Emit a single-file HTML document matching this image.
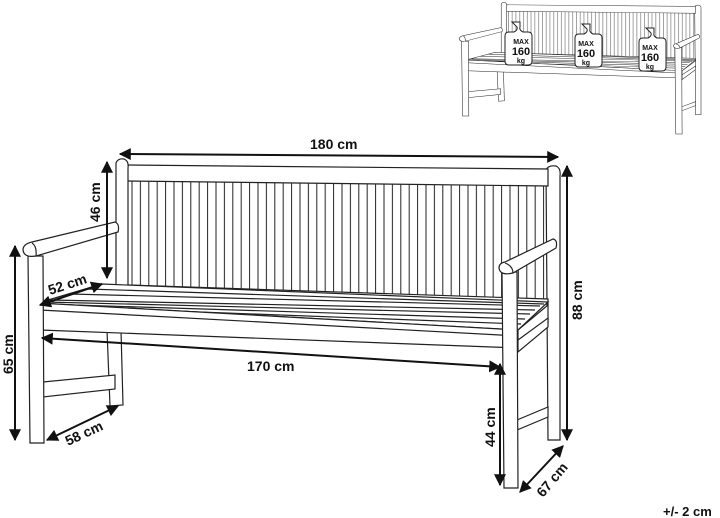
<!DOCTYPE html>
<html><head><meta charset="utf-8"><style>
html,body{margin:0;padding:0;background:#fff;}
svg{display:block;}
text{font-family:"Liberation Sans",sans-serif;font-weight:bold;fill:#111;}
</style></head><body>
<svg width="720" height="518" viewBox="0 0 720 518" xmlns="http://www.w3.org/2000/svg">
<defs>
<pattern id="sl" width="8.4" height="400" patternUnits="userSpaceOnUse" x="128" y="0">
<line x1="4" y1="0" x2="4" y2="400" stroke="#222" stroke-width="1"/>
</pattern>
<clipPath id="bk"><polygon points="128,181 548,186 548,303 128,287"/></clipPath>
<marker id="ar" viewBox="0 0 10 10" refX="9" refY="5" markerWidth="6" markerHeight="6" orient="auto-start-reverse"><path d="M0,0 L10,5 L0,10 z" fill="#111"/></marker>
<g id="bench" fill="#fff" stroke="#222" stroke-width="1.2" vector-effect="non-scaling-stroke">
<rect x="120" y="170" width="440" height="140" fill="url(#sl)" stroke="none" clip-path="url(#bk)"/>
<path d="M546,170 Q548,165 556,166 Q561,168 560,176 L560,440 L548,440 Z"/>
<path d="M126,165 L548,169 L548,186 L126,181 Z"/>
<path d="M116,163 Q118,158 124,159 Q129,161 128,168 L128,290 L116,290 Z"/>
<path d="M128,285 L548,299 L548,304 L128,290 Z"/>
<path d="M107,330 L121,330 L123,405 L110,406 Z"/>
<path d="M43,382 L115,375 L115,389 L43,397 Z"/>
<path d="M38,303 L102,284 L548,302 L518,330 Z"/>
<line x1="50" y1="300" x2="535" y2="310" />
<line x1="45" y1="302" x2="530" y2="314" />
<line x1="42" y1="304" x2="525" y2="319" />
<line x1="40" y1="306" x2="521" y2="324" />
<line x1="70" y1="294" x2="540" y2="306" />
<line x1="88" y1="289" x2="544" y2="304" />
<path d="M38,303 L518,330 L518,348 L40,330 Z"/>
<line x1="40" y1="310" x2="518" y2="336"/>
<path d="M518,330 L548,305 L548,323 L518,348 Z"/>
<path d="M518,340 L548,318 L548,327 L518,352 Z"/>
<path d="M517,420 L548,407 L548,417 L517,430 Z"/>
<path d="M28,256 L43,256 L44,443 L30,443 Z"/>
<path d="M32,242 L115,222 Q120,224 118,232 L36,256 Q24,258 23,250 Q23,244 32,242 Z"/>
<path d="M32,243 Q37,246 36,256"/>
<path d="M502,272 L517,272 L518,488 L504,488 Z"/>
<path d="M505,262 L553,239 Q558,240 556,248 L513,273 Q500,276 499,268 Q499,263 505,262 Z"/>
<path d="M505,263 Q513,266 513,273"/>
</g>
</defs>
<use href="#bench"/>
<use href="#bench" transform="translate(458,2) scale(0.45,0.4) translate(-20,-158)"/>
<g stroke="#222" stroke-width="1" fill="#fff">
<path d="M515,22 h8 v5 q-1,3 3,5 h5 q4,0 4,4 v25 q0,4 -4,4 h-19 q-4,0 -4,-4 v-25 q0,-4 4,-4 h5 q4,-2 3,-5z" transform="translate(-3,0)"/>
<path d="M580,24 h8 v5 q-1,3 3,5 h5 q4,0 4,4 v25 q0,4 -4,4 h-19 q-4,0 -4,-4 v-25 q0,-4 4,-4 h5 q4,-2 3,-5z" transform="translate(2,0)"/>
<path d="M646,28 h8 v5 q-1,3 3,5 h5 q4,0 4,4 v25 q0,4 -4,4 h-19 q-4,0 -4,-4 v-25 q0,-4 4,-4 h5 q4,-2 3,-5z"/>
</g>
<g text-anchor="middle">
<text x="521" y="44" font-size="7">MAX</text><text x="521" y="55" font-size="11">160</text><text x="521" y="63" font-size="7">kg</text>
<text x="586" y="46" font-size="7">MAX</text><text x="586" y="57" font-size="11">160</text><text x="586" y="65" font-size="7">kg</text>
<text x="650" y="50" font-size="7">MAX</text><text x="650" y="61" font-size="11">160</text><text x="650" y="69" font-size="7">kg</text>
</g>
<g stroke="#111" stroke-width="2" marker-start="url(#ar)" marker-end="url(#ar)" fill="none">
<line x1="120" y1="154" x2="558" y2="157"/>
<line x1="107" y1="162" x2="107" y2="278"/>
<line x1="40" y1="305" x2="102" y2="284"/>
<line x1="15" y1="246" x2="15" y2="440"/>
<line x1="42" y1="338" x2="500" y2="367"/>
<line x1="47" y1="440" x2="118" y2="406"/>
<line x1="567" y1="166" x2="567" y2="440"/>
<line x1="500" y1="364" x2="500" y2="485"/>
<line x1="520" y1="492" x2="563" y2="446"/>
</g>
<g font-size="14">
<text x="310" y="149">180 cm</text>
<text x="247" y="371">170 cm</text>
<text transform="translate(100,222) rotate(-90)">46 cm</text>
<text transform="translate(50,295) rotate(-18)">52 cm</text>
<text transform="translate(13,374) rotate(-90)">65 cm</text>
<text transform="translate(68,446) rotate(-25)">58 cm</text>
<text transform="translate(582,320) rotate(-90)">88 cm</text>
<text transform="translate(495,447) rotate(-90)">44 cm</text>
<text transform="translate(543,498) rotate(-50)">67 cm</text>
<text x="663" y="516" font-size="13">+/- 2 cm</text>
</g>
</svg>
</body></html>
